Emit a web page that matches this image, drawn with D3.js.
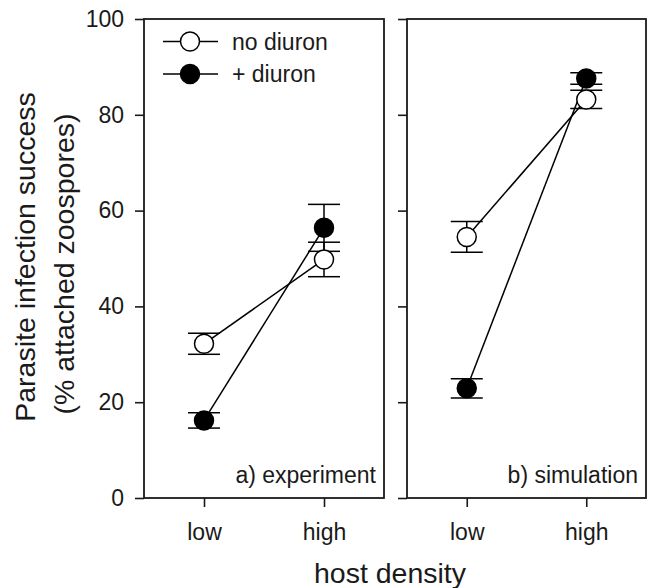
<!DOCTYPE html>
<html>
<head>
<meta charset="utf-8">
<script src="https://cdn.jsdelivr.net/npm/d3@7"></script>
<style>
  html, body { margin: 0; padding: 0; background: #fff; }
  svg { display: block; font-family: "Liberation Sans", Arial, sans-serif; }
</style>
</head>
<body>
<svg id="chart" width="649" height="588"></svg>
<script>
// ---- data ----
const categories = ["low", "high"];
const seriesNames = ["no diuron", "+ diuron"];
const panelLabels = ["a) experiment", "b) simulation"];
const yTicks = [0, 20, 40, 60, 80, 100];

const expNoDiuron = [32.2, 49.8];
const expNoDiuronErr = [2.2, 3.6];
const expDiuron = [16.2, 56.4];
const expDiuronErr = [1.6, 4.9];

const simNoDiuron = [54.5, 83.2];
const simNoDiuronErr = [3.2, 1.9];
const simDiuron = [22.9, 87.6];
const simDiuronErr = [2.0, 1.2];

// ---- layout ----
const svg = d3.select("#chart");
const plotTop = 19, plotBottom = 498;
const FS = 23, TITLE_FS = 28.5, INK = "#1a1a1a";
const panels = [
  { x0: 144, x1: 384, label: panelLabels[0], showLabels: true,
    series: [
      { name: seriesNames[0], vals: expNoDiuron, err: expNoDiuronErr, fill: "#fff" },
      { name: seriesNames[1], vals: expDiuron, err: expDiuronErr, fill: "#000" }
    ] },
  { x0: 407, x1: 646, label: panelLabels[1], showLabels: false,
    series: [
      { name: seriesNames[0], vals: simNoDiuron, err: simNoDiuronErr, fill: "#fff" },
      { name: seriesNames[1], vals: simDiuron, err: simDiuronErr, fill: "#000" }
    ] }
];

const y = d3.scaleLinear().domain([0, 100]).range([plotBottom, plotTop]);
const r = 9.5, capHalf = 16;

panels.forEach(p => {
  const x = d3.scalePoint().domain(categories).range([p.x0, p.x1]).padding(0.5);
  const g = svg.append("g");

  // y axis
  const ya = g.append("g").attr("transform", `translate(${p.x0},0)`)
    .call(d3.axisLeft(y).tickValues(yTicks).tickSize(9).tickPadding(11)
      .tickFormat(p.showLabels ? d3.format("d") : () => ""));
  ya.select(".domain").remove();
  ya.selectAll(".tick line").attr("stroke", INK).attr("stroke-width", 1.6);
  ya.selectAll(".tick text").attr("font-size", FS).attr("fill", INK)
    .attr("font-family", "Liberation Sans, Arial, sans-serif");

  // x axis
  const xa = g.append("g").attr("transform", `translate(0,${plotBottom})`)
    .call(d3.axisBottom(x).tickSize(9).tickPadding(17));
  xa.select(".domain").remove();
  xa.selectAll(".tick line").attr("stroke", INK).attr("stroke-width", 1.6);
  xa.selectAll(".tick text").attr("font-size", FS).attr("fill", INK)
    .attr("font-family", "Liberation Sans, Arial, sans-serif");

  // frame
  g.append("rect").attr("x", p.x0).attr("y", plotTop)
    .attr("width", p.x1 - p.x0).attr("height", plotBottom - plotTop)
    .attr("fill", "none").attr("stroke", INK).attr("stroke-width", 1.8);

  // error bars
  p.series.forEach(s => {
    categories.forEach((c, i) => {
      const cx = x(c), lo = y(s.vals[i] - s.err[i]), hi = y(s.vals[i] + s.err[i]);
      g.append("line").attr("x1", cx).attr("x2", cx).attr("y1", lo).attr("y2", hi)
        .attr("stroke", "#000").attr("stroke-width", 1.5);
      [lo, hi].forEach(yy => g.append("line")
        .attr("x1", cx - capHalf).attr("x2", cx + capHalf).attr("y1", yy).attr("y2", yy)
        .attr("stroke", "#000").attr("stroke-width", 1.5));
    });
  });

  // lines
  const line = d3.line().x((d, i) => x(categories[i])).y(d => y(d));
  p.series.forEach(s => {
    g.append("path").attr("d", line(s.vals)).attr("fill", "none")
      .attr("stroke", "#000").attr("stroke-width", 1.5);
  });

  // points
  p.series.forEach(s => {
    s.vals.forEach((v, i) => {
      g.append("circle").attr("cx", x(categories[i])).attr("cy", y(v)).attr("r", r)
        .attr("fill", s.fill).attr("stroke", "#000").attr("stroke-width", 1.5);
    });
  });

  // panel label
  g.append("text").attr("x", p.x1 - 8).attr("y", 483).attr("text-anchor", "end")
    .attr("font-size", FS).attr("fill", INK).text(p.label);
});

// legend
const legendY = [41.5, 74];
const legendFills = ["#fff", "#000"];
seriesNames.forEach((n, i) => {
  const lg = svg.append("g");
  lg.append("line").attr("x1", 163).attr("x2", 218).attr("y1", legendY[i]).attr("y2", legendY[i])
    .attr("stroke", "#000").attr("stroke-width", 1.5);
  lg.append("circle").attr("cx", 190).attr("cy", legendY[i]).attr("r", r)
    .attr("fill", legendFills[i]).attr("stroke", "#000").attr("stroke-width", 1.5);
  lg.append("text").attr("x", 232).attr("y", legendY[i] + 8)
    .attr("font-size", FS).attr("fill", INK).text(n);
});

// axis titles
svg.append("text").attr("x", 390).attr("y", 583).attr("text-anchor", "middle")
  .attr("font-size", TITLE_FS).attr("fill", INK).text("host density");
svg.append("text").attr("transform", "translate(35,257) rotate(-90)").attr("text-anchor", "middle")
  .attr("font-size", TITLE_FS).attr("fill", INK).text("Parasite infection success");
svg.append("text").attr("transform", "translate(74,264) rotate(-90)").attr("text-anchor", "middle")
  .attr("font-size", TITLE_FS).attr("fill", INK).text("(% attached zoospores)");
</script>
</body>
</html>
